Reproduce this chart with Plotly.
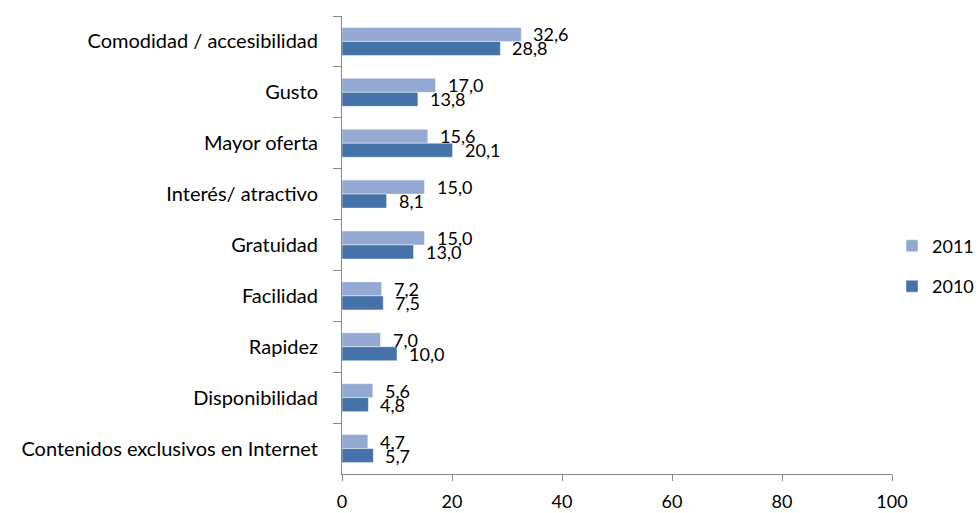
import plotly.graph_objects as go

# Motivos de uso (%), por año
categorias = [
    "Comodidad / accesibilidad",
    "Gusto",
    "Mayor oferta",
    "Interés/ atractivo",
    "Gratuidad",
    "Facilidad",
    "Rapidez",
    "Disponibilidad",
    "Contenidos exclusivos en Internet",
]
valores_2011 = [32.6, 17.0, 15.6, 15.0, 15.0, 7.2, 7.0, 5.6, 4.7]
valores_2010 = [28.8, 13.8, 20.1, 8.1, 13.0, 7.5, 10.0, 4.8, 5.7]
ticks_x = [0, 20, 40, 60, 80, 100]

FONT = "Lato"
FS = 18
FS_CAT = 20
AXIS = "#868686"
series = [
    ("2011", valores_2011, "#93A9D2", 7),
    ("2010", valores_2010, "#4572A8", -7),
]

fig = go.Figure()
for nombre, vals, color, _ in series:
    fig.add_trace(go.Bar(
        name=nombre, y=categorias, x=vals, orientation="h",
        marker=dict(color=color, line=dict(color="rgba(255,255,255,0.45)", width=1)),
        legendgroup=nombre,
    ))


def fmt(v):
    return f"{v:.1f}".replace(".", ",")


annotations = []
for nombre, vals, color, dy in series:
    for cat, v in zip(categorias, vals):
        annotations.append(dict(
            x=v, y=cat, xref="x", yref="y", text=fmt(v), showarrow=False,
            xanchor="left", yanchor="middle", xshift=10, yshift=dy,
            font=dict(family=FONT, size=FS, color="#000000"),
        ))

fig.update_layout(
    width=979, height=513,
    margin=dict(l=342, r=87, t=16, b=39, autoexpand=False),
    paper_bgcolor="white", plot_bgcolor="white",
    barmode="group", bargap=0.45, bargroupgap=0,
    font=dict(family=FONT, size=FS, color="#000000"),
    showlegend=True,
    legend=dict(
        x=1.0, y=0.454, xanchor="left", yanchor="middle",
        font=dict(family=FONT, size=FS),
        traceorder="grouped", tracegroupgap=14,
        bgcolor="rgba(0,0,0,0)",
    ),
    annotations=annotations,
)
fig.update_xaxes(
    range=[0, 100], tickvals=ticks_x, showgrid=False, zeroline=False,
    showline=True, linecolor=AXIS, linewidth=1,
    ticks="outside", ticklen=6, tickcolor=AXIS, ticklabelstandoff=5,
    tickfont=dict(family=FONT, size=FS),
)
fig.update_yaxes(
    autorange="reversed", showgrid=False, zeroline=False,
    showline=True, linecolor=AXIS, linewidth=1,
    ticks="outside", ticklen=8, tickcolor=AXIS, tickson="boundaries",
    ticklabelstandoff=19, tickfont=dict(family=FONT, size=FS_CAT),
)

fig.write_html("out.html")
